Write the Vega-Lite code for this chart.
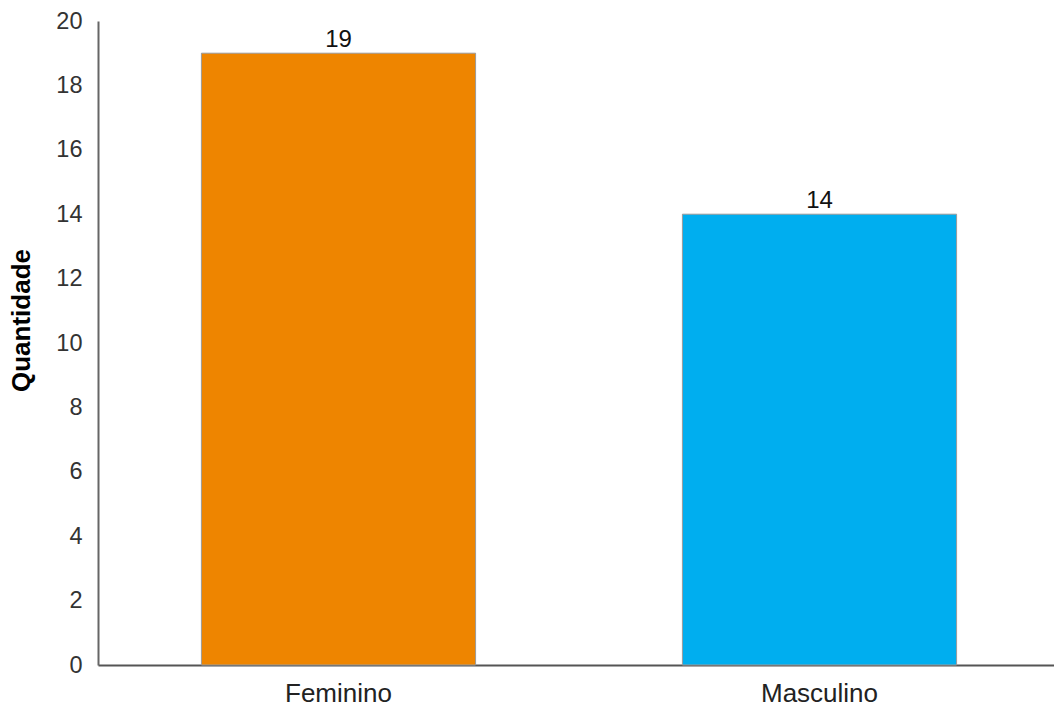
{
  "$schema": "https://vega.github.io/schema/vega-lite/v6.json",
  "autosize": "none",
  "padding": {"left": 98, "top": 21, "right": 0, "bottom": 44},
  "width": 962,
  "height": 644,
  "background": "white",
  "config": {
    "view": {"stroke": null},
    "font": "Liberation Sans"
  },
  "data": {
    "values": [
      {"sexo": "Feminino", "quantidade": 19, "cor": "#EE8500"},
      {"sexo": "Masculino", "quantidade": 14, "cor": "#00AEEF"}
    ]
  },
  "encoding": {
    "x": {
      "field": "sexo",
      "type": "nominal",
      "sort": null,
      "scale": {"paddingInner": 0.43, "paddingOuter": 0.215},
      "axis": {
        "title": null,
        "labelAngle": 0,
        "labelFontSize": 26,
        "labelColor": "#222222",
        "labelPadding": 15,
        "ticks": false,
        "domainColor": "#555555",
        "domainWidth": 2
      }
    },
    "y": {
      "field": "quantidade",
      "type": "quantitative",
      "scale": {"domain": [0, 20], "nice": false},
      "axis": {
        "title": "Quantidade",
        "titleFontSize": 26,
        "titleFontWeight": "bold",
        "titleColor": "#000000",
        "titlePadding": 21,
        "titleY": 299,
        "values": [0, 2, 4, 6, 8, 10, 12, 14, 16, 18, 20],
        "grid": false,
        "ticks": false,
        "labelFontSize": 23.5,
        "labelColor": "#333333",
        "labelPadding": 16,
        "domainColor": "#666666",
        "domainWidth": 2
      }
    }
  },
  "layer": [
    {
      "mark": {"type": "bar", "stroke": "#9a9a9a", "strokeWidth": 1},
      "encoding": {
        "fill": {"field": "cor", "type": "nominal", "scale": null}
      }
    },
    {
      "mark": {"type": "text", "baseline": "alphabetic", "dy": -6, "fontSize": 24, "color": "#111111"},
      "encoding": {
        "text": {"field": "quantidade", "type": "quantitative"}
      }
    }
  ]
}
